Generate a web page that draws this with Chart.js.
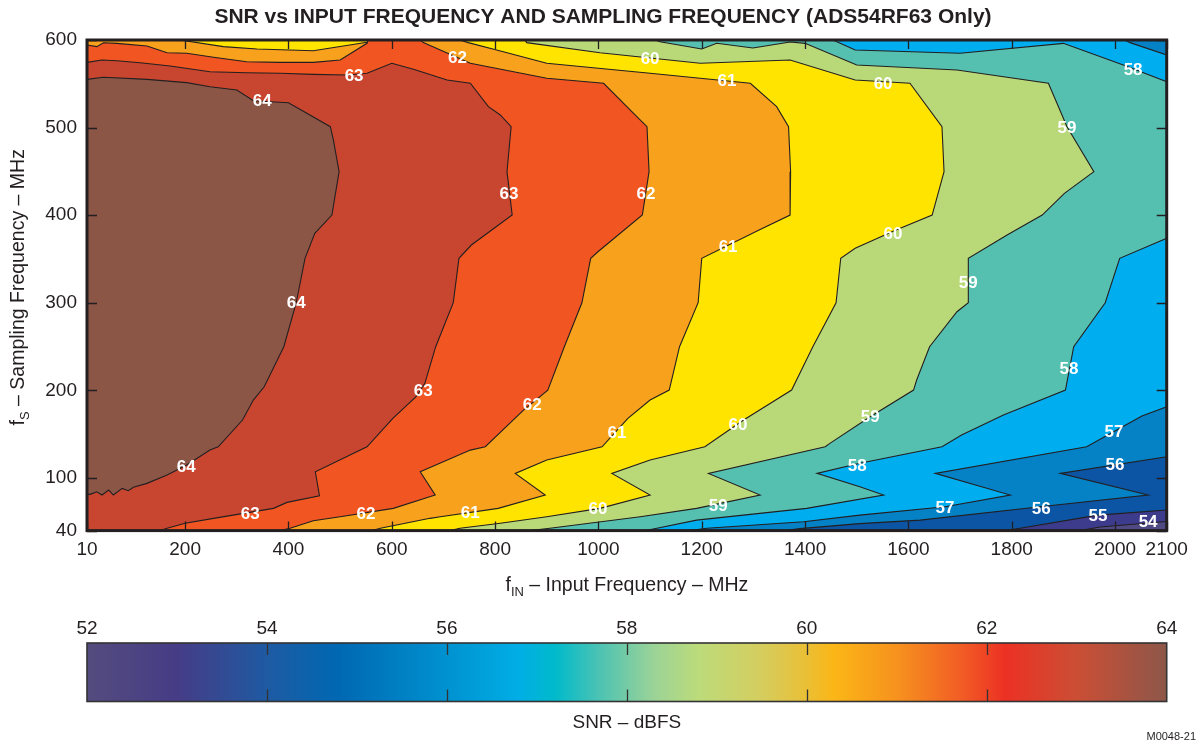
<!DOCTYPE html>
<html lang="en">
<head>
<meta charset="utf-8">
<title>SNR vs Input Frequency and Sampling Frequency</title>
<script src="https://cdn.jsdelivr.net/npm/chart.js@4.4.1/dist/chart.umd.min.js"></script>
<style>
  body { margin: 0; background: #fff; }
  .box { position: absolute; left: 0; width: 1198px; }
</style>
</head>
<body>
<div class="box" style="top:0;height:600px"><canvas id="snrMap"></canvas></div>
<div class="box" style="top:600px;height:145px"><canvas id="snrBar"></canvas></div>
<script>
// Tick values of the map and of the colour bar.
const xTicks = [10, 200, 400, 600, 800, 1000, 1200, 1400, 1600, 1800, 2000, 2100];
const yTicks = [40, 100, 200, 300, 400, 500, 600];
const barTicks = [52, 54, 56, 58, 60, 62, 64];

// Contour levels (dBFS) and the fill of the band that starts at each level.
const snrLevels = [54, 55, 56, 57, 58, 59, 60, 61, 62, 63, 64];
const bandColors = ['#3D3B8C', '#0B55A4', '#0581C5', '#00AEEF', '#55C0AF', '#B9D979',
  '#FFE400', '#F7A11D', '#F05522', '#C84630', '#8C5647'];
const belowColor = '#4F4A83';

// Areas where SNR >= level, as [fIN MHz, fS MHz] outlines.
const ge54 = [[10,600],[2100,600],[2100,50.3],[1971,44.1],[1932,40],[10,40]];
const ge55 = [[10,600],[2100,600],[2100,63.5],[1967,57.7],[1816,42.6],[1787,40],[10,40]];
const ge56 = [[10,600],[2100,600],[2100,124.3],[1894,105.3],[2064,80.6],[1855,67.2],[1623,52],
  [1506,48],[1390,42.3],[1361,40],[10,40]];
const ge57 = [[10,600],[2019,600],[2029,597],[2100,582.9],[2100,181.4],[2052,170.8],[1945,135.7],
  [1652,105.3],[1797,80.6],[1671,67.2],[1506,57.7],[1397,50.1],[1210,42.6],[1177,40],[10,40]];
const ge58 = [[10,600],[1454,600],[1497,588.6],[1700,584.8],[1900,596.2],[2016,571.5],[2100,552.4],
  [2100,373.6],[2009,350.8],[1981,300.1],[1920,249.9],[1904,200.4],[1784,171.9],[1703,149.1],
  [1665,135.7],[1506,116.8],[1423,105.3],[1506,90],[1552,80.6],[1403,65.4],[1190,52],[1106,41.8],
  [1090,40],[10,40]];
const ge59 = [[10,600],[1110,600],[1119,598],[1200,589.7],[1229,596.2],[1299,590.9],[1371,597.7],
  [1400,596.2],[1500,571.5],[1694,565.8],[1871,550.6],[1907,501],[1959,449.7],[1902,425],
  [1859,400.2],[1791,377.4],[1716,350.8],[1716,300.1],[1694,289.8],[1641,249.9],[1616,211.9],
  [1610,200.4],[1526,170],[1448,139.6],[1439,135.7],[1213,105.3],[1313,80.6],[1190,65.4],
  [1081,55.8],[906,42.6],[868,40],[10,40]];
const ge60 = [[10,600],[858,600],[861,597],[1003,585.5],[1197,573.4],[1371,577.2],[1497,554.3],
  [1603,550.6],[1665,501],[1669,449.7],[1646,400.2],[1576,383.1],[1497,362.2],[1469,350.8],
  [1460,300.1],[1415,249.9],[1374,200.4],[1281,166.2],[1206,135.7],[1100,120.5],[1026,105.3],
  [1100,80.6],[1003,65.4],[900,55.8],[810,48.3],[732,42.6],[713,40],[10,40]];
const ge61 = [[10,600],[190,600],[274,592.4],[339,589.7],[448,587.8],[552,597.4],[562,600],
  [732,600],[748,597],[803,588.6],[900,573.4],[1100,562],[1294,550.6],[1345,523.9],[1368,501],
  [1372,449.7],[1371,400.2],[1311,383.1],[1200,350.8],[1193,300.1],[1157,249.9],[1137,200.4],
  [1100,189],[1057,168.1],[1007,135.7],[900,120.5],[839,105.3],[897,80.6],[806,65.4],[694,55.8],
  [674,54],[578,42.6],[562,40],[10,40]];
const ge62 = [[10,594.3],[29,592.4],[42,596.9],[68,596.2],[126,593.2],[165,585.5],[203,584.8],
  [255,580.3],[319,575.2],[384,574.5],[448,574.5],[500,577.2],[552,596.2],[554,600],[655,600],
  [661,597],[752,573.4],[900,556.3],[1010,550.6],[1068,516.3],[1094,501],[1098,449.7],
  [1085,400.2],[999,358.3],[985,350.8],[968,300.1],[934,249.9],[902,200.4],[855,177.6],
  [781,135.7],[752,131.9],[655,107.2],[684,80.6],[603,65.4],[500,55.8],[448,51.2],[403,42.6],
  [384,40],[10,40]];
const ge63 = [[10,574.5],[39,577.2],[68,576.4],[113,574.1],[171,570.3],[248,563.8],[319,562.7],
  [384,562],[448,560.8],[513,560],[552,562],[600,573.4],[642,566.6],[707,554.3],[752,550.6],
  [787,523.9],[810,514.4],[831,501],[823,449.7],[833,400.2],[754,366],[730,350.8],[719,300.1],
  [685,249.9],[664,208.1],[647,192.8],[602,168.1],[552,135.7],[452,107.2],[460,79.8],[397,72.2],
  [371,65.4],[255,54],[200,48.3],[165,42.6],[152,40],[10,40]];
const ge64 = [[10,555.1],[42,557.4],[126,555.1],[203,551.3],[248,546.7],[300,542.9],[332,530.7],
  [400,528.4],[481,501],[487,485.8],[498,449.7],[484,400.2],[451,379.3],[432,350.8],[415,300.1],
  [391,249.9],[353,204.2],[332,189],[311,166.2],[264,135.7],[248,131.9],[203,114.8],[165,103.4],
  [126,93.9],[100,89.4],[90,85.5],[78,88.2],[61,80.6],[52,86.3],[39,80.6],[29,84.3],[16,81.4],
  [10,81.4]];
const regions = [ge54, ge55, ge56, ge57, ge58, ge59, ge60, ge61, ge62, ge63, ge64];

// Inline contour labels.
const labelFin = [349, 527, 727, 1100, 1249, 1551, 2035, 1907, 827, 1092, 1251, 1570, 1716, 415,
  1911, 661, 872, 1036, 1270, 1526, 1998, 1501, 2000, 202, 326, 550, 752, 999, 1232, 1671, 1857,
  1967, 2064];
const labelFs = [531.5, 560, 580.6, 579.5, 554.3, 550.9, 566.9, 500.7, 425.3, 425.3, 364.8, 379.7,
  323.7, 300.9, 225.6, 200.4, 184.5, 152.5, 161.6, 170.8, 153.6, 114.8, 116, 113.7, 60, 60, 61.2,
  65.8, 69.2, 66.9, 65.8, 57.8, 50.9];
const labelSnr = [64, 63, 62, 60, 61, 60, 58, 59, 63, 62, 61, 60, 59, 64, 58, 63, 62, 61, 60, 59,
  57, 58, 56, 64, 63, 62, 61, 60, 59, 57, 56, 55, 54];

// Colour bar stops.
const barStops = [52, 53, 54, 54.8, 56, 56.8, 57.2, 57.7, 58.3, 58.8, 59.5, 60, 60.3, 61, 61.7, 62.2, 63, 64];
const barColors = ['#544C7E', '#463C86', '#1E5AA2', '#0068B3', '#0092D0', '#00AEE5', '#00BACB',
  '#4DC3B3', '#9BD397', '#BCDB7A', '#D5CD5E', '#EABF35', '#FBB616', '#F6921E', '#F25E25',
  '#EC3124', '#CB4E35', '#8D5749'];

const ink = '#231F20';
const family = '"Liberation Sans", Arial, Helvetica, sans-serif';
Chart.defaults.font.family = family;
Chart.defaults.color = ink;
const plainTick = v => String(v);

// Text with a subscript part: parts are [text, size, baseline shift].
function drawRich(ctx, parts, cx, cy) {
  let total = 0;
  parts.forEach(p => {
    ctx.font = p[1] + 'px ' + family;
    total += ctx.measureText(p[0]).width;
  });
  let x = cx - total / 2;
  ctx.textAlign = 'left';
  ctx.textBaseline = 'alphabetic';
  parts.forEach(p => {
    ctx.font = p[1] + 'px ' + family;
    ctx.fillText(p[0], x, cy + p[2]);
    x += ctx.measureText(p[0]).width;
  });
}

const mapDecor = {
  id: 'mapDecor',
  beforeDatasetsDraw(chart) {
    const {ctx, chartArea: a} = chart;
    ctx.save();
    ctx.fillStyle = belowColor;
    ctx.fillRect(a.left, a.top, a.right - a.left, a.bottom - a.top);
    ctx.restore();
  },
  afterDatasetsDraw(chart) {
    const {ctx, chartArea: a, scales} = chart;
    ctx.save();
    // contour labels
    ctx.fillStyle = '#fff';
    ctx.font = 'bold 17px ' + family;
    ctx.textAlign = 'center';
    ctx.textBaseline = 'middle';
    labelSnr.forEach((v, i) => {
      ctx.fillText(String(v), scales.x.getPixelForValue(labelFin[i]), scales.y.getPixelForValue(labelFs[i]) + 1);
    });
    // inward tick marks
    ctx.strokeStyle = ink;
    ctx.lineWidth = 1.3;
    ctx.beginPath();
    scales.x.ticks.forEach(t => {
      const px = Math.round(scales.x.getPixelForValue(t.value)) + 0.5;
      ctx.moveTo(px, a.bottom); ctx.lineTo(px, a.bottom - 9);
      ctx.moveTo(px, a.top); ctx.lineTo(px, a.top + 9);
    });
    scales.y.ticks.forEach(t => {
      const py = Math.round(scales.y.getPixelForValue(t.value)) + 0.5;
      ctx.moveTo(a.left, py); ctx.lineTo(a.left + 10, py);
      ctx.moveTo(a.right, py); ctx.lineTo(a.right - 10, py);
    });
    ctx.stroke();
    // frame
    ctx.lineWidth = 3;
    ctx.strokeRect(a.left, a.top, a.right - a.left, a.bottom - a.top);
    ctx.restore();
  },
  afterDraw(chart) {
    const {ctx, chartArea: a} = chart;
    ctx.save();
    ctx.fillStyle = ink;
    ctx.font = 'bold 21px ' + family;
    ctx.textAlign = 'center';
    ctx.textBaseline = 'middle';
    ctx.fillText('SNR vs INPUT FREQUENCY AND SAMPLING FREQUENCY (ADS54RF63 Only)', 603, 17);
    drawRich(ctx, [['f', 19.5, 0], ['IN', 13, 5], [' \u2013 Input Frequency \u2013 MHz', 19.5, 0]],
      (a.left + a.right) / 2, 591);
    ctx.translate(24, (a.top + a.bottom) / 2 + 2);
    ctx.rotate(-Math.PI / 2);
    drawRich(ctx, [['f', 19.5, 0], ['S', 13, 5], [' \u2013 Sampling Frequency \u2013 MHz', 19.5, 0]], 0, 0);
    ctx.restore();
  }
};

new Chart(document.getElementById('snrMap'), {
  type: 'line',
  data: {
    datasets: regions.map((poly, i) => ({
      label: 'SNR \u2265 ' + snrLevels[i],
      data: poly.map(([x, y]) => ({x, y})),
      backgroundColor: bandColors[i],
      borderColor: ink,
      borderWidth: 1.1,
      pointRadius: 0,
      pointHoverRadius: 0,
      tension: 0,
      fill: 'shape',
      order: 100 - snrLevels[i]
    }))
  },
  options: {
    responsive: true,
    maintainAspectRatio: false,
    animation: false,
    events: [],
    layout: { padding: { top: 40, right: 31.3 } },
    plugins: {
      legend: { display: false },
      tooltip: { enabled: false },
      title: { display: false }
    },
    scales: {
      x: {
        type: 'linear', min: 10, max: 2100,
        afterBuildTicks: s => { s.ticks = xTicks.map(v => ({value: v})); },
        afterFit: s => { s.height = 69.4; },
        ticks: { autoSkip: false, maxRotation: 0, padding: 8, color: ink, font: { size: 19 }, callback: plainTick },
        grid: { display: false, drawTicks: false },
        border: { display: false }
      },
      y: {
        type: 'linear', min: 40, max: 600,
        afterBuildTicks: s => { s.ticks = yTicks.map(v => ({value: v})); },
        afterFit: s => { s.width = 87; },
        ticks: { padding: 10, color: ink, font: { size: 19 }, callback: plainTick },
        grid: { display: false, drawTicks: false },
        border: { display: false }
      }
    }
  },
  plugins: [mapDecor]
});

const barDecor = {
  id: 'barDecor',
  afterDatasetsDraw(chart) {
    const {ctx, chartArea: a, scales} = chart;
    ctx.save();
    ctx.strokeStyle = '#333';
    ctx.lineWidth = 1.3;
    ctx.beginPath();
    barTicks.slice(1, -1).forEach(v => {
      const px = Math.round(scales.x.getPixelForValue(v)) + 0.5;
      ctx.moveTo(px, a.top); ctx.lineTo(px, a.top + 12);
      ctx.moveTo(px, a.bottom); ctx.lineTo(px, a.bottom - 12);
    });
    ctx.stroke();
    ctx.lineWidth = 1.6;
    ctx.strokeRect(a.left, a.top, a.right - a.left, a.bottom - a.top);
    ctx.fillStyle = ink;
    ctx.font = '11px ' + family;
    ctx.textAlign = 'right';
    ctx.textBaseline = 'alphabetic';
    ctx.fillText('M0048-21', 1196, 140);
    ctx.restore();
  }
};

new Chart(document.getElementById('snrBar'), {
  type: 'bar',
  data: {
    labels: ['SNR'],
    datasets: [{
      data: [[barTicks[0], barTicks[barTicks.length - 1]]],
      backgroundColor: c => {
        const chart = c.chart;
        if (!chart.chartArea) return barColors[0];
        const xs = chart.scales.x;
        const lo = barTicks[0], hi = barTicks[barTicks.length - 1];
        const g = chart.ctx.createLinearGradient(xs.getPixelForValue(lo), 0, xs.getPixelForValue(hi), 0);
        barStops.forEach((v, i) => g.addColorStop((v - lo) / (hi - lo), barColors[i]));
        return g;
      },
      borderWidth: 0,
      barPercentage: 1,
      categoryPercentage: 1
    }]
  },
  options: {
    indexAxis: 'y',
    responsive: true,
    maintainAspectRatio: false,
    animation: false,
    events: [],
    layout: { padding: { left: 87, right: 31.3 } },
    plugins: { legend: { display: false }, tooltip: { enabled: false } },
    scales: {
      x: {
        type: 'linear', position: 'top', min: 52, max: 64,
        afterBuildTicks: s => { s.ticks = barTicks.map(v => ({value: v})); },
        afterFit: s => { s.height = 43; },
        ticks: { autoSkip: false, maxRotation: 0, padding: 3, color: ink, font: { size: 19 }, callback: plainTick },
        grid: { display: false, drawTicks: false },
        border: { display: false }
      },
      xb: {
        type: 'linear', axis: 'x', position: 'bottom', min: 52, max: 64,
        afterFit: s => { s.height = 43.5; },
        ticks: { display: false },
        grid: { display: false, drawTicks: false },
        border: { display: false },
        title: { display: true, text: 'SNR \u2013 dBFS', color: ink, font: { size: 19 }, padding: { top: 0, bottom: 11 } }
      },
      y: { display: false }
    }
  },
  plugins: [barDecor]
});
</script>
</body>
</html>
